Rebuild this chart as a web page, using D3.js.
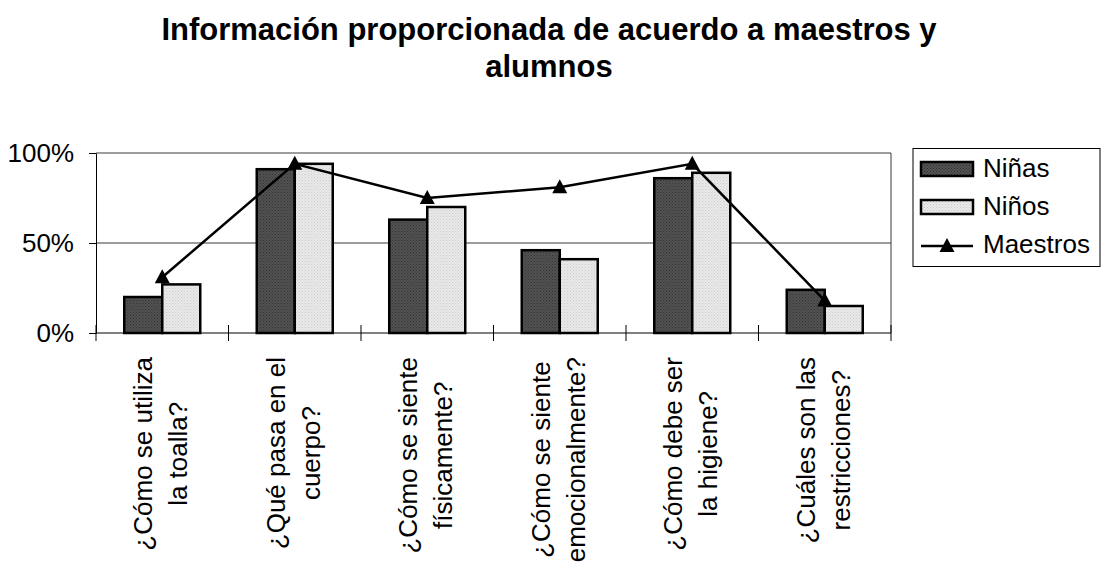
<!DOCTYPE html>
<html>
<head>
<meta charset="utf-8">
<script src="https://cdn.jsdelivr.net/npm/d3@7"></script>
<style>
  body { margin: 0; background: #fff; }
  text { font-family: "Liberation Sans", Arial, sans-serif; fill: #000; }
</style>
</head>
<body>
<svg id="chart" width="1102" height="566"></svg>
<script>
// chart data
const categories = [
    ['¿Cómo se utiliza', 'la toalla?'],
    ['¿Qué pasa en el', 'cuerpo?'],
    ['¿Cómo se siente', 'físicamente?'],
    ['¿Cómo se siente', 'emocionalmente?'],
    ['¿Cómo debe ser', 'la higiene?'],
    ['¿Cuáles son las', 'restricciones?']
];
const ninas    = [0.20, 0.91, 0.63, 0.46, 0.86, 0.24];
const ninos    = [0.27, 0.94, 0.70, 0.41, 0.89, 0.15];
const maestros = [0.31, 0.94, 0.75, 0.81, 0.94, 0.18];
const yTicks = [0, 0.5, 1];
const seriesNames = ['Niñas', 'Niños', 'Maestros'];

const svg = d3.select('#chart');
const plot = { left: 96, right: 891, top: 153, bottom: 333 };

// fill patterns for the two bar series
let defs = svg.append('defs');
function addPattern(id, base, dot) {
    let p = defs.append('pattern')
        .attr('id', id)
        .attr('width', 3).attr('height', 3)
        .attr('patternUnits', 'userSpaceOnUse');
    p.append('rect').attr('width', 3).attr('height', 3).attr('fill', base);
    p.append('rect').attr('x', 0).attr('y', 0).attr('width', 1).attr('height', 1).attr('fill', dot);
    p.append('rect').attr('x', 1.5).attr('y', 1.5).attr('width', 1).attr('height', 1).attr('fill', dot);
}
addPattern('patNinas', '#555', '#2a2a2a');
addPattern('patNinos', '#ececec', '#c4c4c4');

// scales
let keys = categories.map(function(d, i){ return i; });
let x0 = d3.scaleBand()
    .domain(keys)
    .range([plot.left, plot.right])
    .paddingInner(0.4264)
    .paddingOuter(0.2132);
let x1 = d3.scaleBand()
    .domain(['ninas', 'ninos'])
    .range([0, x0.bandwidth()]);
let y = d3.scaleLinear()
    .domain([0, 1])
    .range([plot.bottom, plot.top]);

// title
let title = svg.append('g').attr('font-weight', 'bold').attr('font-size', 31);
title.append('text').attr('x', 549).attr('y', 40).attr('text-anchor', 'middle')
    .text('Información proporcionada de acuerdo a maestros y');
title.append('text').attr('x', 549).attr('y', 77).attr('text-anchor', 'middle')
    .text('alumnos');

// gridlines
svg.append('g')
    .selectAll('line')
    .data(yTicks.filter(function(d){ return d > 0; }))
    .enter().append('line')
        .attr('x1', plot.left).attr('x2', plot.right)
        .attr('y1', function(d){ return y(d); })
        .attr('y2', function(d){ return y(d); })
        .attr('stroke', '#3a3a3a')
        .attr('stroke-width', 1);

// right border of plot area
svg.append('line')
    .attr('x1', plot.right).attr('x2', plot.right)
    .attr('y1', plot.top).attr('y2', plot.bottom)
    .attr('stroke', '#3a3a3a');

// y axis
let yAxis = d3.axisLeft(y)
    .tickValues(yTicks)
    .tickFormat(d3.format('.0%'))
    .tickSizeInner(7)
    .tickSizeOuter(0)
    .tickPadding(15);
let ya = svg.append('g')
    .attr('transform', 'translate(' + plot.left + ',0)')
    .call(yAxis);
ya.select('.domain').attr('stroke', '#000');
ya.selectAll('.tick line').attr('stroke', '#000');
ya.selectAll('.tick text')
    .attr('font-size', 26)
    .attr('font-family', '"Liberation Sans", Arial, sans-serif')
    .attr('fill', '#000');

// bars
let groups = svg.append('g')
    .selectAll('g')
    .data(keys)
    .enter().append('g')
        .attr('transform', function(d){ return 'translate(' + x0(d) + ',0)'; });

groups.append('rect')
    .attr('x', x1('ninas'))
    .attr('y', function(d){ return y(ninas[d]); })
    .attr('width', x1.bandwidth())
    .attr('height', function(d){ return plot.bottom - y(ninas[d]); })
    .attr('fill', 'url(#patNinas)')
    .attr('stroke', '#000')
    .attr('stroke-width', 2.5);

groups.append('rect')
    .attr('x', x1('ninos'))
    .attr('y', function(d){ return y(ninos[d]); })
    .attr('width', x1.bandwidth())
    .attr('height', function(d){ return plot.bottom - y(ninos[d]); })
    .attr('fill', 'url(#patNinos)')
    .attr('stroke', '#000')
    .attr('stroke-width', 2.5);

// x axis line and crossing tick marks at category boundaries
svg.append('line')
    .attr('x1', plot.left).attr('x2', plot.right)
    .attr('y1', plot.bottom).attr('y2', plot.bottom)
    .attr('stroke', '#000');
let bounds = d3.range(categories.length + 1).map(function(i){ return plot.left + i * x0.step(); });
svg.append('g')
    .selectAll('line')
    .data(bounds)
    .enter().append('line')
        .attr('x1', function(d){ return d; })
        .attr('x2', function(d){ return d; })
        .attr('y1', plot.bottom - 8)
        .attr('y2', plot.bottom + 8)
        .attr('stroke', '#000');

// maestros line + triangle markers
let cx = function(i){ return x0(i) + x0.bandwidth() / 2; };
let line = d3.line()
    .x(function(d, i){ return cx(i); })
    .y(function(d){ return y(d); });
svg.append('path')
    .datum(maestros)
    .attr('d', line)
    .attr('fill', 'none')
    .attr('stroke', '#000')
    .attr('stroke-width', 2.5);

const tri = 'M0,-8L7.5,6L-7.5,6Z';
svg.append('g')
    .selectAll('path')
    .data(maestros)
    .enter().append('path')
        .attr('d', tri)
        .attr('transform', function(d, i){ return 'translate(' + cx(i) + ',' + y(d) + ')'; })
        .attr('fill', '#000');

// rotated category labels
let labels = svg.append('g').attr('font-size', 26);
categories.forEach(function(lines, i) {
    let g = labels.append('g');
    let t = g.selectAll('text')
        .data(lines)
        .enter().append('text')
            .attr('text-anchor', 'middle')
            .attr('y', function(d, j){ return j === 0 ? -10 : 25; })
            .text(function(d){ return d; });
    let len = d3.max(t.nodes(), function(n){ return n.getComputedTextLength(); });
    g.attr('transform', 'translate(' + cx(i) + ',' + (357 + len / 2) + ') rotate(-90)');
});

// legend
let legend = svg.append('g');
legend.append('rect')
    .attr('x', 913).attr('y', 148.5)
    .attr('width', 187).attr('height', 118)
    .attr('fill', '#fff')
    .attr('stroke', '#000');

let fills = ['url(#patNinas)', 'url(#patNinos)'];
let baselines = [177, 215, 253];
seriesNames.forEach(function(name, i) {
    let by = baselines[i];
    if (i < 2) {
        legend.append('rect')
            .attr('x', 921).attr('y', by - 15)
            .attr('width', 52).attr('height', 14)
            .attr('fill', fills[i])
            .attr('stroke', '#000')
            .attr('stroke-width', 2.5);
    } else {
        legend.append('line')
            .attr('x1', 921).attr('x2', 973)
            .attr('y1', by - 7).attr('y2', by - 7)
            .attr('stroke', '#000')
            .attr('stroke-width', 2.5);
        legend.append('path')
            .attr('d', tri)
            .attr('transform', 'translate(947,' + (by - 7) + ')')
            .attr('fill', '#000');
    }
    legend.append('text')
        .attr('x', 983).attr('y', by)
        .attr('font-size', 26)
        .text(name);
});
</script>
</body>
</html>
